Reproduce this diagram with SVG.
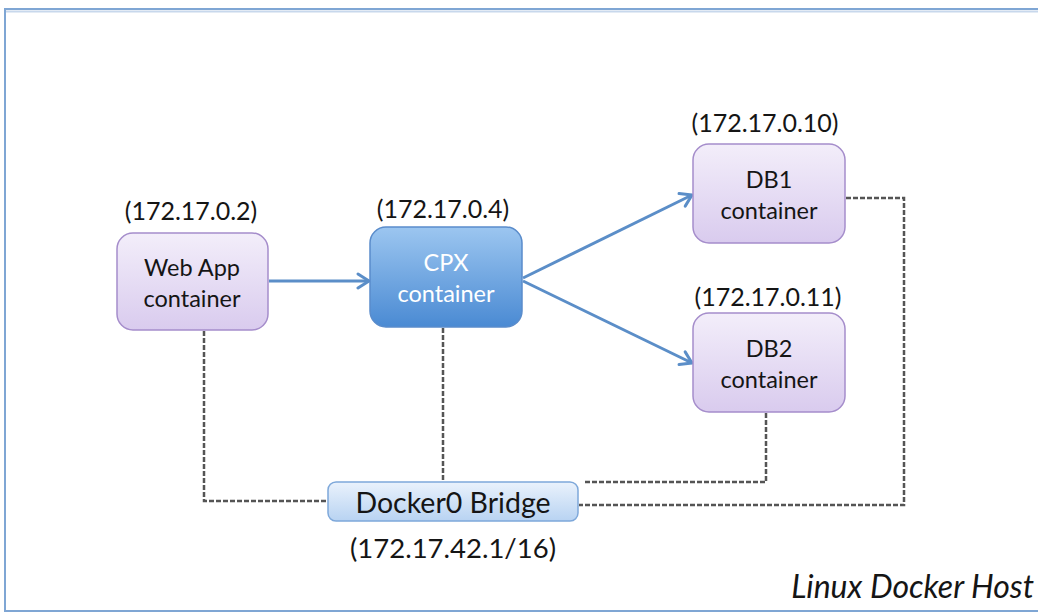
<svg xmlns="http://www.w3.org/2000/svg" width="1038" height="615" viewBox="0 0 1038 615">
<defs>
<linearGradient id="gP" x1="0" y1="0" x2="0" y2="1"><stop offset="0" stop-color="#f3eefa"/><stop offset="1" stop-color="#d9cbee"/></linearGradient>
<linearGradient id="gB" x1="0" y1="0" x2="0" y2="1"><stop offset="0" stop-color="#9cc6f0"/><stop offset="1" stop-color="#4a8ad3"/></linearGradient>
<linearGradient id="gL" x1="0" y1="0" x2="0" y2="1"><stop offset="0" stop-color="#eaf2fc"/><stop offset="1" stop-color="#b8d3f2"/></linearGradient>
<marker id="ah" markerWidth="18" markerHeight="18" refX="14" refY="9" orient="auto" markerUnits="userSpaceOnUse" viewBox="0 0 18 18"><path d="M3,2 L14,9 L3,16" fill="none" stroke="#5b8ec8" stroke-width="3" stroke-linecap="round" stroke-linejoin="round"/></marker>
<style>
text{font-family:Lato,"Open Sans","Liberation Sans",sans-serif;fill:#151515}
.lbl{font-size:25px;text-anchor:middle}
.nt{font-size:23.5px;text-anchor:middle}
.p{fill:url(#gP);stroke:#a58dcb;stroke-width:1.5}
.d{fill:none;stroke:#555;stroke-width:2.5;stroke-dasharray:5 2}
.a{fill:none;stroke:#5b8ec8;stroke-width:3;marker-end:url(#ah)}
</style>
</defs>
<rect x="5" y="9" width="1100" height="602" fill="#fff" stroke="#7fa6d4" stroke-width="2"/>
<line x1="6" y1="11.5" x2="1038" y2="11.5" stroke="#c8d8ec" stroke-width="2"/>
<g id="connectors">
<path class="d" d="M204,331 V501 H328"/>
<path class="d" d="M443,328 V482"/>
<path class="d" d="M766,413 V482 H583"/>
<path class="d" d="M846,198 H904 V505 H579"/>
<path class="a" d="M269,281 H369"/>
<path class="a" d="M523,278 L692,195"/>
<path class="a" d="M523,281 L692,363"/>
</g>
<g id="webapp">
<rect class="p" x="117" y="233" width="151" height="97" rx="16"/>
<text class="lbl" x="191" y="220">(172.17.0.2)</text>
<text class="nt" x="192" y="276">Web App</text>
<text class="nt" x="192" y="307">container</text>
</g>
<g id="cpx">
<rect x="370" y="227" width="152" height="100" rx="16" fill="url(#gB)" stroke="#5a8ccb" stroke-width="1.5"/>
<text class="lbl" x="443" y="218">(172.17.0.4)</text>
<text class="nt" x="446" y="271" style="fill:#fff">CPX</text>
<text class="nt" x="446" y="302" style="fill:#fff">container</text>
</g>
<g id="db1">
<rect class="p" x="693" y="144" width="152" height="99" rx="16"/>
<text class="lbl" x="765" y="132">(172.17.0.10)</text>
<text class="nt" x="769" y="188">DB1</text>
<text class="nt" x="769" y="219">container</text>
</g>
<g id="db2">
<rect class="p" x="693" y="313" width="152" height="99" rx="16"/>
<text class="lbl" x="768" y="306">(172.17.0.11)</text>
<text class="nt" x="769" y="357">DB2</text>
<text class="nt" x="769" y="388">container</text>
</g>
<g id="bridge">
<rect x="328" y="482" width="250" height="39" rx="8" fill="url(#gL)" stroke="#7ea8da" stroke-width="1.5"/>
<text x="453" y="513" style="font-size:28.5px;text-anchor:middle">Docker0 Bridge</text>
<text class="lbl" x="453" y="558" style="font-size:27.5px">(172.17.42.1/16)</text>
</g>
<text x="1034" y="598" style="font-size:32px;font-style:italic;text-anchor:end">Linux Docker Host</text>
</svg>
